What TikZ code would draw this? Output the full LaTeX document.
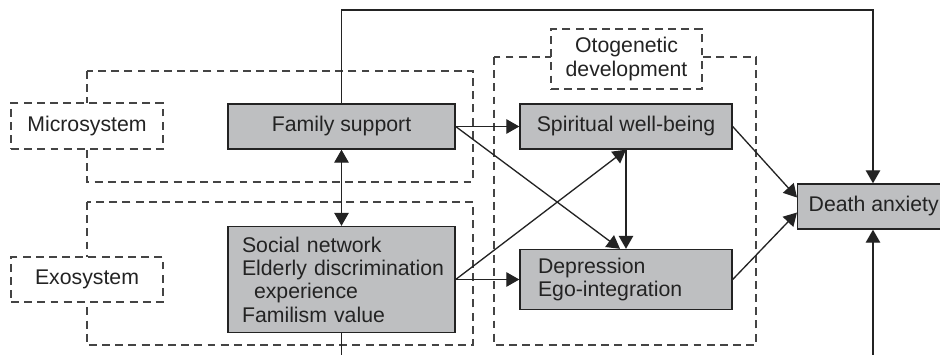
\documentclass[tikz,border=0pt]{standalone}
\usepackage{fontspec}
\setmainfont{Liberation Sans}
\usetikzlibrary{arrows.meta,calc}
\definecolor{boxgray}{RGB}{190,191,193}
\definecolor{inkgray}{RGB}{35,35,35}

\begin{document}
\begin{tikzpicture}[x=0.02cm, y=-0.02cm,
	font=\fontsize{12.1}{13.3}\selectfont,
	every node/.style={text=inkgray},
	sysframe/.style={draw=inkgray!85, dash pattern=on 4.5pt off 3pt, line width=0.7pt},
	syslabel/.style={sysframe, fill=white, inner sep=0pt},
	factor/.style={draw=inkgray, fill=boxgray, line width=0.8pt, inner sep=0pt},
	link/.style={draw=inkgray, line width=0.75pt, -{Triangle[length=2.6mm, width=2.9mm]}},
	twoway/.style={link, {Triangle[length=2.6mm, width=2.9mm]}-{Triangle[length=2.6mm, width=2.9mm]}},
	plain/.style={draw=inkgray, line width=0.75pt}]
\fill[white] (0, 0) rectangle (940, 355);
\useasboundingbox (0, 0) rectangle (940, 355);
\draw[sysframe] (87, 71) rectangle (473, 182);
\draw[sysframe] (87, 202) rectangle (473, 345);
\draw[sysframe] (494, 57) rectangle (756, 345);
\node[syslabel, minimum width=3.04cm, minimum height=0.92cm] (micro) at (87, 126) {Microsystem};
\node[syslabel, minimum width=3.04cm, minimum height=0.9cm] (exo) at (87, 279.5) {Exosystem};
\node[syslabel, minimum width=3.02cm, minimum height=1.2cm, align=center] (oto) at (626.5, 59)
	{Otogenetic\\development};
\node[factor, minimum width=4.54cm, minimum height=0.9cm] (fam) at (341.5, 126.5) {Family support};
\node[factor, text width=4.14cm, inner xsep=0.2cm, minimum height=2.12cm, align=left] (soc) at (341.5, 279.5)
	{\hspace*{0.08cm}Social network\\\hspace*{0.08cm}Elderly discrimination\\\hspace*{0.32cm}experience\\\hspace*{0.08cm}Familism value};
\node[factor, minimum width=4.24cm, minimum height=0.9cm] (spir) at (626, 126.5) {Spiritual well-being};
\node[factor, text width=3.52cm, inner xsep=0.36cm, minimum height=1.2cm, align=left] (dep) at (626, 279.5)
	{Depression\\Ego-integration};
\node[factor, inner xsep=0.22cm, minimum height=0.9cm, anchor=west] (death) at (797, 206.5) {Death anxiety};
\coordinate (toprt) at (873, 10);
\coordinate (botrt) at (873, 355);
\coordinate (botlt) at (341.5, 355);
\draw[link] (fam.north) |- (toprt) -- (toprt |- death.north);
\draw[twoway] (fam.south) -- (soc.north);
\draw[link] (fam.east) -- (spir.west);
\draw[link] (fam.east) -- ($(dep.north)+(-6, 0)$);
\draw[link] (soc.east) -- (spir.south);
\draw[link] (soc.east) -- (dep.west);
\draw[link] (spir.south) -- (dep.north);
\draw[link] (spir.east) -- ($(death.west)+(0, -9)$);
\draw[link] (dep.east) -- ($(death.west)+(0, 6)$);
\draw[plain] (soc.south) -- (botlt);
\draw[link] (botrt) -- (botrt |- death.south);
\end{tikzpicture}
\end{document}
